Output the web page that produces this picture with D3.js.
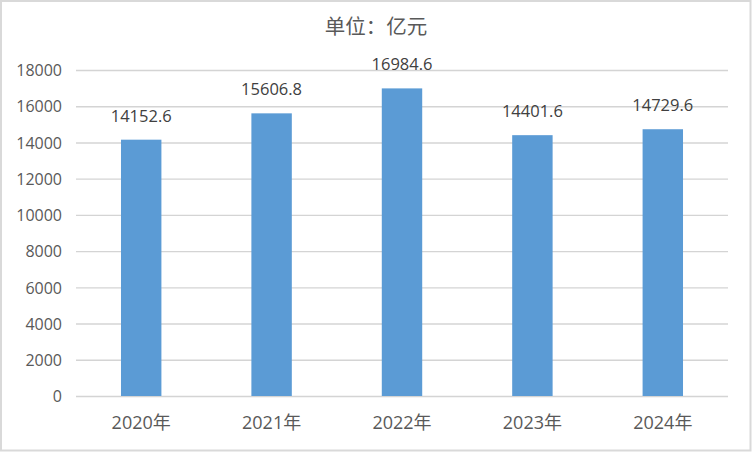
<!DOCTYPE html>
<html><head><meta charset="utf-8">
<script src="https://cdn.jsdelivr.net/npm/d3@7"></script>
<style>
html,body{margin:0;padding:0;background:#fff;}
svg{display:block;}
</style></head>
<body>
<svg id="chart" width="752" height="452"></svg>
<script>
const categories = ["2020年", "2021年", "2022年", "2023年", "2024年"];
const values = [14152.6, 15606.8, 16984.6, 14401.6, 14729.6];
const valueLabels = ["14152.6", "15606.8", "16984.6", "14401.6", "14729.6"];
const yTicks = [0, 2000, 4000, 6000, 8000, 10000, 12000, 14000, 16000, 18000];
const title = "单位：亿元";

(function () {
const svg = d3.select("#chart");
const W = 752, H = 452;
const font = "'Open Sans','Noto Sans CJK SC',sans-serif";
const textColor = "#595959";

svg.append("rect").attr("x", 1).attr("y", 1).attr("width", W - 2.5).attr("height", H - 2.5)
  .attr("fill", "#fff").attr("stroke", "#d9d9d9").attr("stroke-width", 2);

const pLeft = 76, pRight = 728, pTop = 70, pBottom = 396;
const x = d3.scaleBand().domain(categories).range([pLeft, pRight]).paddingInner(0.69).paddingOuter(0.345);
const y = d3.scaleLinear().domain([0, 18000]).range([pBottom, pTop]);

// gridlines
const yAxis = d3.axisLeft(y).tickValues(yTicks).tickSize(-(pRight - pLeft)).tickPadding(14).tickFormat(d3.format("d"));
const gy = svg.append("g").attr("transform", `translate(${pLeft},0)`).call(yAxis);
gy.select(".domain").remove();
gy.selectAll(".tick line").attr("stroke", "#d4d4d4").attr("stroke-width", 1.4);
gy.selectAll(".tick text").attr("fill", textColor).style("font-family", font).style("font-size", "16px")
  .attr("dy", "0.36em");

// bars
svg.append("g").selectAll("rect").data(values).join("rect")
  .attr("x", (d, i) => x(categories[i]))
  .attr("width", x.bandwidth())
  .attr("y", d => y(d))
  .attr("height", d => y(0) - y(d))
  .attr("fill", "#5b9bd5");

// value labels
svg.append("g").selectAll("text").data(values).join("text")
  .attr("x", (d, i) => x(categories[i]) + x.bandwidth() / 2)
  .attr("y", d => y(d) - 18)
  .attr("text-anchor", "middle")
  .attr("fill", "#404040")
  .style("font-family", font).style("font-size", "16.5px")
  .text((d, i) => valueLabels[i]);

// x axis
const xAxis = d3.axisBottom(x).tickSize(0).tickPadding(20);
const gx = svg.append("g").attr("transform", `translate(0,${pBottom})`).call(xAxis);
gx.select(".domain").remove();
gx.selectAll(".tick text").attr("fill", textColor).style("font-family", font).style("font-size", "18px");

// title
svg.append("text").attr("x", 376).attr("y", 34).attr("text-anchor", "middle")
  .attr("fill", textColor).style("font-family", "'Noto Sans CJK SC',sans-serif").style("font-size", "20.5px")
  .text(title);
})();
</script>
</body></html>
